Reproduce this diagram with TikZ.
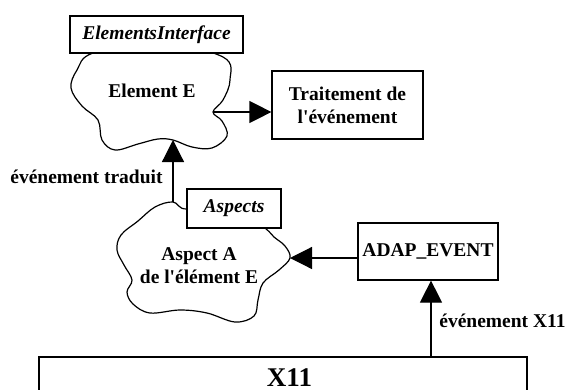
\documentclass[tikz,border=0pt]{standalone}
\usepackage{fontspec}
\setmainfont{Liberation Serif}[Ligatures=TeXOff]
\usetikzlibrary{arrows.meta}
\tikzset{
  base/.style={font=\fontsize{19.5}{23}\selectfont\bfseries},
  boxnode/.style={base, draw, line width=1.2pt, fill=white, inner sep=0pt, align=center},
  ibox/.style={boxnode, font=\fontsize{19.5}{23}\selectfont\bfseries\itshape},
  txt/.style={base, inner sep=0pt, align=center},
  cloud/.style={draw, line width=1.2pt},
  conn/.style={line width=1.2pt, -{Triangle[length=22pt,width=22pt]}},
}
\begin{document}
\begin{tikzpicture}[x=1pt,y=-1pt]
\useasboundingbox (0,0) rectangle (573,389);
% clouds
\draw[cloud] plot[smooth cycle, tension=0.6] coordinates {
 (93,53) (77,70) (71,88) (82,106) (98,120) (102,140) (115,150) (138,144) (158,139) (173,140)
 (192,147) (212,148) (227,136) (222,121) (213,112) (223,100) (230,80) (223,57) (157,42)};
\draw[cloud] plot[smooth cycle, tension=0.6] coordinates {
 (173,202) (155,207) (138,221) (121,235) (117,250) (124,265) (132,280) (127,292) (133,304)
 (150,313) (180,310) (207,313) (235,322) (254,316) (258,300) (263,283) (279,270) (290,258)
 (285,246) (274,237) (265,228) (230,200) (187,209)};
% boxes
\node[ibox, minimum width=173pt, minimum height=37pt] (ei) at (156.5,34.5) {ElementsInterface};
\node[txt] (ele) at (152,91) {Element E};
\node[boxnode, minimum width=151pt, minimum height=68pt] (trait) at (347.5,105) {Traitement de\\l'événement};
\node[ibox, minimum width=94pt, minimum height=39pt] (asp) at (234,208.5) {Aspects};
\node[txt] (aspa) at (199,266) {Aspect A\\de l'élément E};
\node[boxnode, minimum width=140pt, minimum height=57pt] (adap) at (428,251.5) {ADAP\_EVENT};
\draw[line width=1.2pt] (39,400) -- (39,357) coordinate (x11l) -- (527,357) coordinate (x11r) -- (527,400);
\node[base, font=\fontsize{27}{30}\selectfont\bfseries, anchor=base, inner sep=0pt] (x11) at (289.5,386) {X11};
% labels
\node[txt, anchor=base] (lt) at (86.5,183) {événement traduit};
\node[txt, anchor=base] (lx) at (502.5,327) {événement X11};
% connectors
\coordinate (eR) at (213,112);
\coordinate (eB) at (173,140);
\coordinate (aT) at (173,202);
\coordinate (aR) at (290,258);
\coordinate (xT) at (431,357);
\draw[conn] (eR) -- (trait.west |- eR);
\draw[conn] (aT) -- (eB);
\draw[conn] (adap.west |- aR) -- (aR);
\draw[conn] (xT) -- (adap.south -| xT);
\end{tikzpicture}
\end{document}
